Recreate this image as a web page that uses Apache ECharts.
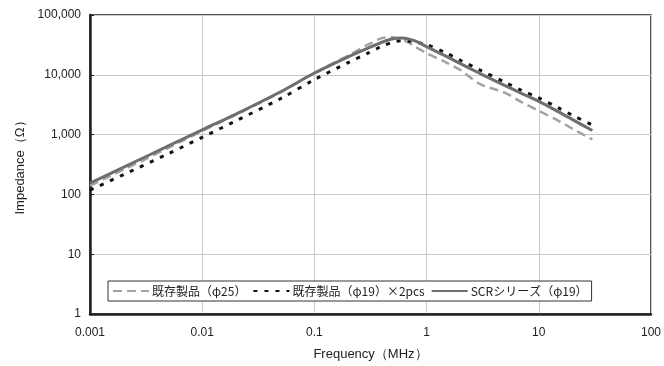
<!DOCTYPE html>
<html><head><meta charset="utf-8">
<script src="https://cdn.jsdelivr.net/npm/echarts@6/dist/echarts.min.js"></script>
<style>html,body{margin:0;padding:0;background:#fff}#c{width:664px;height:366px}</style>
</head><body><div id="c"></div>
<script>
const freq = [0.001,0.002,0.005,0.01,0.02,0.05,0.1,0.2,0.3,0.4,0.5,0.6,0.7,0.8,1,1.5,2,3,5,7,10,15,20,30];
const phi25 = [140,260,600,1150,2150,5100,10800,21000,32000,41000,42500,39000,34000,29000,23000,16000,12000,7000,5000,3500,2500,1700,1250,830];
const phi19x2 = [118,215,480,900,1700,4000,8300,16000,23000,30000,35000,37000,36500,35000,32000,23000,17500,12000,7500,5500,4100,2800,2100,1450];
const scr = [155,285,650,1200,2200,5200,10700,20000,28000,35000,40000,41300,39500,36500,29500,20300,15400,10500,6600,4900,3600,2400,1780,1170];
const seriesNames = ['既存製品（φ25）','既存製品（φ19）×2pcs','SCRシリーズ（φ19）'];
const xTickLabels = ['0.001','0.01','0.1','1','10','100'];
const yTickLabels = ['1','10','100','1,000','10,000','100,000'];

const pair = arr => freq.map((f,i)=>[f,arr[i]]);
const font = 'Liberation Sans, Arial, sans-serif';
const chart = echarts.init(document.getElementById('c'));
chart.setOption({
  animation:false,
  backgroundColor:'#fff',
  grid:{left:90,right:8,top:15,bottom:51,show:true,borderColor:'#222',borderWidth:1.5},
  xAxis:{type:'log',logBase:10,min:0.001,max:100,
    name:'Frequency（MHz）',nameLocation:'middle',nameGap:34,
    nameTextStyle:{color:'#222',fontSize:13,fontFamily:font},
    axisLine:{show:true,lineStyle:{color:'#222',width:2.5}},
    axisTick:{show:false},
    splitLine:{show:true,lineStyle:{color:'#c8c8c8',width:1}},
    minorSplitLine:{show:false},
    axisLabel:{color:'#222',fontSize:12,fontFamily:font,margin:13,
      formatter:v=>xTickLabels[Math.round(Math.log10(v))+3]}
  },
  yAxis:{type:'log',logBase:10,min:1,max:100000,
    name:'Impedance（Ω）',nameLocation:'middle',nameGap:63,
    nameTextStyle:{color:'#222',fontSize:13,fontFamily:font},
    axisLine:{show:true,lineStyle:{color:'#222',width:2.5}},
    axisTick:{show:true,inside:true,length:4,lineStyle:{color:'#222'}},
    splitLine:{show:true,lineStyle:{color:'#c8c8c8',width:1}},
    axisLabel:{color:'#222',fontSize:12,fontFamily:font,margin:9,
      formatter:v=>yTickLabels[Math.round(Math.log10(v))]}
  },
  legend:{left:108,top:281,width:560,orient:'horizontal',
    borderColor:'#333',borderWidth:1,backgroundColor:'#fff',borderRadius:0,
    padding:[4,4,4,4],itemWidth:36,itemHeight:10,itemGap:6,
    itemStyle:{opacity:0},
    textStyle:{color:'#222',fontSize:12,fontFamily:'Noto Sans CJK JP, sans-serif',padding:[0,0,0,-2]},
    data:seriesNames},
  series:[
    {name:seriesNames[0],type:'line',data:pair(phi25),symbol:'none',smooth:0.3,
      lineStyle:{color:'#a3a3a3',width:2.5,type:[9,5]},itemStyle:{color:'#a3a3a3'},z:2},
    {name:seriesNames[1],type:'line',data:pair(phi19x2),symbol:'none',smooth:0.3,
      lineStyle:{color:'#111',width:3,type:[4,7]},itemStyle:{color:'#111'},z:3},
    {name:seriesNames[2],type:'line',data:pair(scr),symbol:'none',smooth:0.3,
      lineStyle:{color:'#6e6e6e',width:3},itemStyle:{color:'#6e6e6e'},z:4}
  ]
});
</script></body></html>
